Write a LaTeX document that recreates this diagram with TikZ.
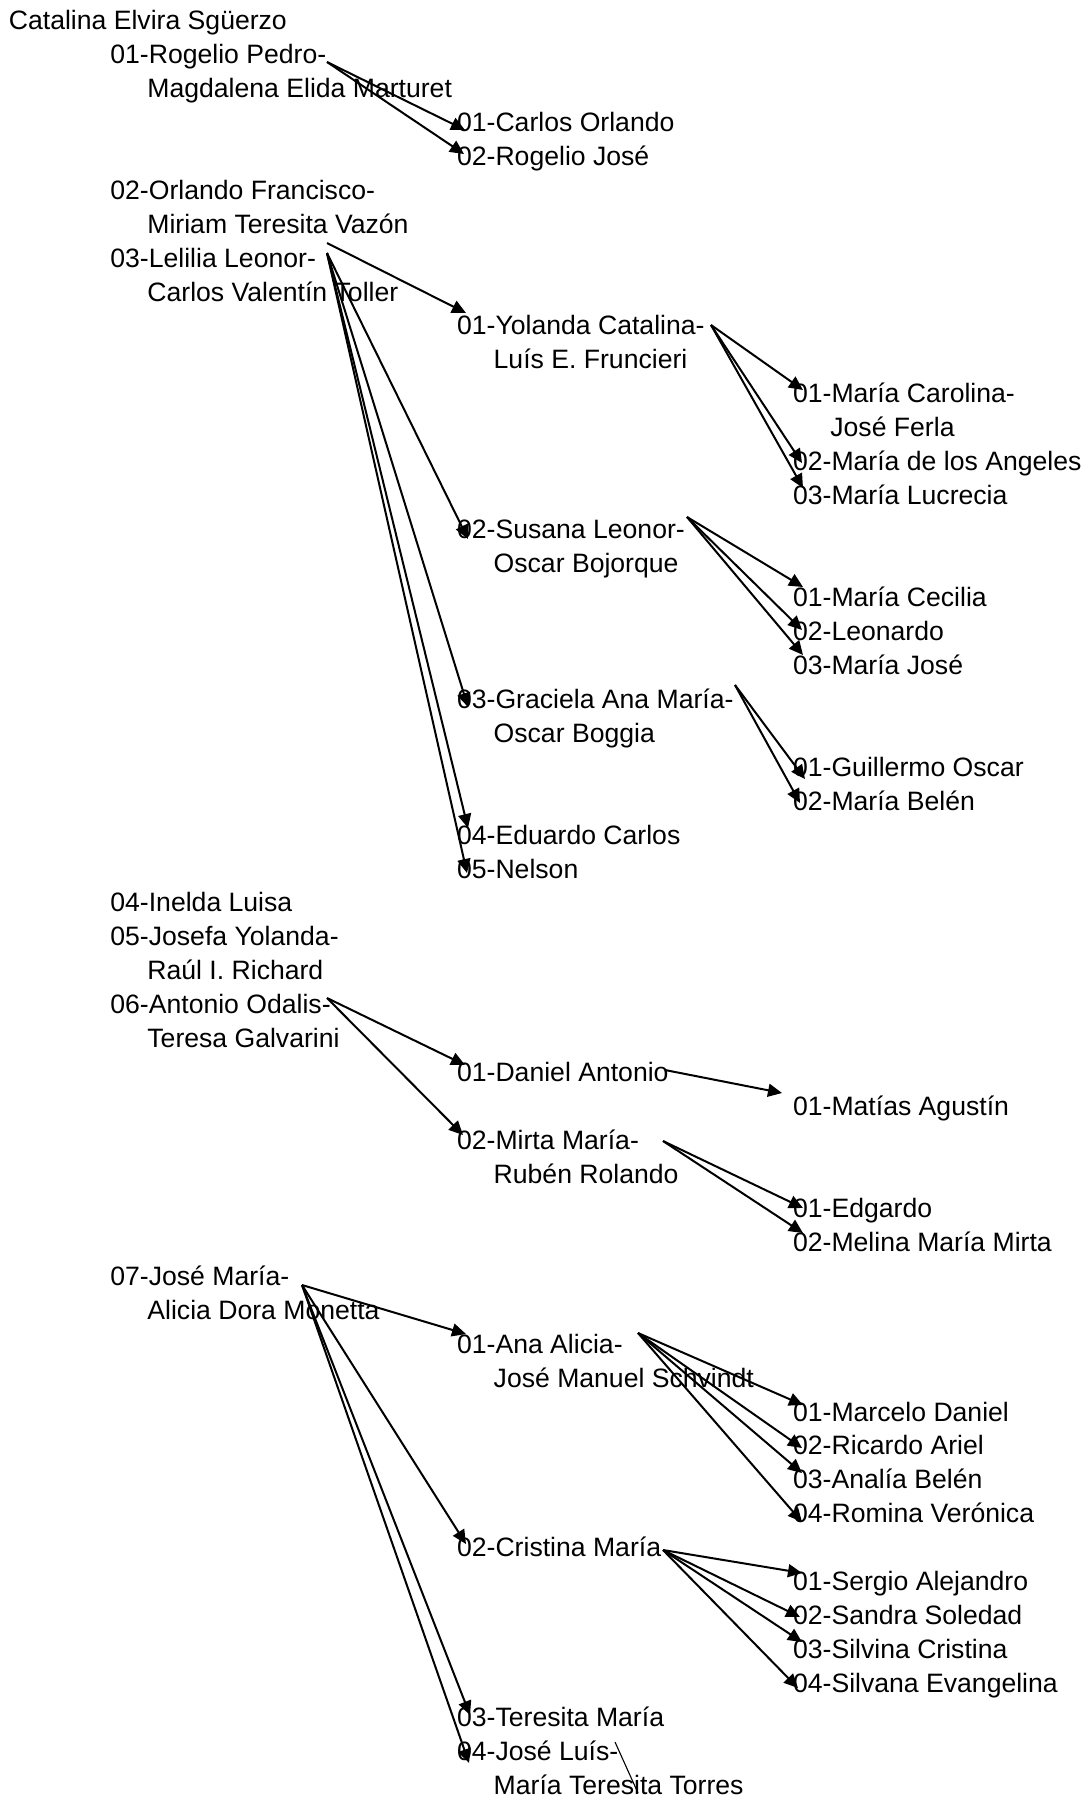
\documentclass[tikz,border=0pt]{standalone}
\usepackage{fontspec}
\setmainfont{Liberation Sans}
\usetikzlibrary{arrows.meta}
\begin{document}
\begin{tikzpicture}[x=0.5pt,y=-0.5pt,>={Triangle[length=7pt,width=6.5pt]},line join=round,
	person/.style={anchor=base west,inner sep=0pt,font=\fontsize{13.3}{16}\selectfont},
	link/.style={->,line width=1pt},
	thin link/.style={line width=0.55pt}]
	\useasboundingbox (0,0) rectangle (1089,1800);
	% names, one per row
	\foreach \n/\x/\r/\t in {cat/8.5/0/{Catalina Elvira Sgüerzo},
		rogelio/110/1/{01-Rogelio Pedro-},magdalena/147/2/{Magdalena Elida Marturet},
		carlos/456.7/3/{01-Carlos Orlando},rogjose/456.7/4/{02-Rogelio José},
		orlando/110/5/{02-Orlando Francisco-},miriam/147/6/{Miriam Teresita Vazón},
		lelilia/110/7/{03-Lelilia Leonor-},toller/147/8/{Carlos Valentín Toller},
		yolanda/456.7/9/{01-Yolanda Catalina-},fruncieri/493.3/10/{Luís E. Fruncieri},
		carolina/792.7/11/{01-María Carolina-},ferla/830/12/{José Ferla},
		angeles/792.7/13/{02-María de los Angeles},lucrecia/792.7/14/{03-María Lucrecia},
		susana/456.7/15/{02-Susana Leonor-},bojorque/493.3/16/{Oscar Bojorque},
		cecilia/792.7/17/{01-María Cecilia},leonardo/792.7/18/{02-Leonardo},mjose/792.7/19/{03-María José},
		graciela/456.7/20/{03-Graciela Ana María-},boggia/493.3/21/{Oscar Boggia},
		guillermo/792.7/22/{01-Guillermo Oscar},belen/792.7/23/{02-María Belén},
		eduardo/456.7/24/{04-Eduardo Carlos},nelson/456.7/25/{05-Nelson},
		inelda/110/26/{04-Inelda Luisa},
		josefa/110/27/{05-Josefa Yolanda-},richard/147/28/{Raúl I. Richard},
		antonio/110/29/{06-Antonio Odalis-},galvarini/147/30/{Teresa Galvarini},
		daniel/456.7/31/{01-Daniel Antonio},matias/792.7/32/{01-Matías Agustín},
		mirta/456.7/33/{02-Mirta María-},ruben/493.3/34/{Rubén Rolando},
		edgardo/792.7/35/{01-Edgardo},melina/792.7/36/{02-Melina María Mirta},
		josemaria/110/37/{07-José María-},monetta/147/38/{Alicia Dora Monetta},
		ana/456.7/39/{01-Ana Alicia-},schvindt/493.3/40/{José Manuel Schvindt},
		marcelo/792.7/41/{01-Marcelo Daniel},ricardo/792.7/42/{02-Ricardo Ariel},
		analia/792.7/43/{03-Analía Belén},romina/792.7/44/{04-Romina Verónica},
		cristina/456.7/45/{02-Cristina María},
		sergio/792.7/46/{01-Sergio Alejandro},sandra/792.7/47/{02-Sandra Soledad},
		silvina/792.7/48/{03-Silvina Cristina},silvana/792.7/49/{04-Silvana Evangelina},
		teresita/456.7/50/{03-Teresita María},joseluis/456.7/51/{04-José Luís-},
		torres/493.3/52/{María Teresita Torres}}
	{\node[person] (\n) at (\x,{29.5+33.94*\r}) {\t};}
	% arrow ends: s = start, t = tip
	\path (327,62) coordinate (srogelio)
		(465,130) coordinate (tcarlos) (464,154) coordinate (trogjose)
		(327,253) coordinate (slelilia) (327,243) coordinate (slelilia')
		(466,313) coordinate (tyolanda) (468,539) coordinate (tsusana)
		(468,707) coordinate (tgraciela) (468,828) coordinate (teduardo) (467,873) coordinate (tnelson)
		(711,325) coordinate (syolanda)
		(803,390) coordinate (tcarolina) (802,463) coordinate (tangeles) (803,488) coordinate (tlucrecia)
		(687,517) coordinate (ssusana)
		(803,587) coordinate (tcecilia) (802,630) coordinate (tleonardo) (803,655) coordinate (tmjose)
		(735,685) coordinate (sgraciela)
		(805,779) coordinate (tguillermo) (800,803) coordinate (tbelen)
		(327,998) coordinate (santonio)
		(465,1065) coordinate (tdaniel) (463,1135) coordinate (tmirta)
		(665,1070) coordinate (sdaniel) (782,1093) coordinate (tmatias)
		(663,1141) coordinate (smirta)
		(803,1208) coordinate (tedgardo) (803,1233) coordinate (tmelina)
		(302,1285) coordinate (sjosemaria)
		(466,1334) coordinate (tana) (466,1544) coordinate (tcristina)
		(470,1715) coordinate (tteresita) (469,1763) coordinate (tjoseluis)
		(638,1333) coordinate (sana)
		(803,1405) coordinate (tmarcelo) (802,1448) coordinate (tricardo)
		(802,1473) coordinate (tanalia) (802,1522) coordinate (tromina)
		(663,1550) coordinate (scristina)
		(802,1573) coordinate (tsergio) (800,1617) coordinate (tsandra)
		(802,1642) coordinate (tsilvina) (798,1688) coordinate (tsilvana)
		(615,1742) coordinate (sjoseluis) (638,1793) coordinate (ejoseluis);
	\foreach \a/\b in {srogelio/tcarlos,srogelio/trogjose,
		{slelilia'}/tyolanda,slelilia/tsusana,slelilia/tgraciela,slelilia/teduardo,slelilia/tnelson,
		syolanda/tcarolina,syolanda/tangeles,syolanda/tlucrecia,
		ssusana/tcecilia,ssusana/tleonardo,ssusana/tmjose,
		sgraciela/tguillermo,sgraciela/tbelen,
		santonio/tdaniel,santonio/tmirta,sdaniel/tmatias,smirta/tedgardo,smirta/tmelina,
		sjosemaria/tana,sjosemaria/tcristina,sjosemaria/tteresita,sjosemaria/tjoseluis,
		sana/tmarcelo,sana/tricardo,sana/tanalia,sana/tromina,
		scristina/tsergio,scristina/tsandra,scristina/tsilvina,scristina/tsilvana}
	{\draw[link] (\a)--(\b);}
	\draw[thin link] (sjoseluis)--(ejoseluis);
\end{tikzpicture}
\end{document}
